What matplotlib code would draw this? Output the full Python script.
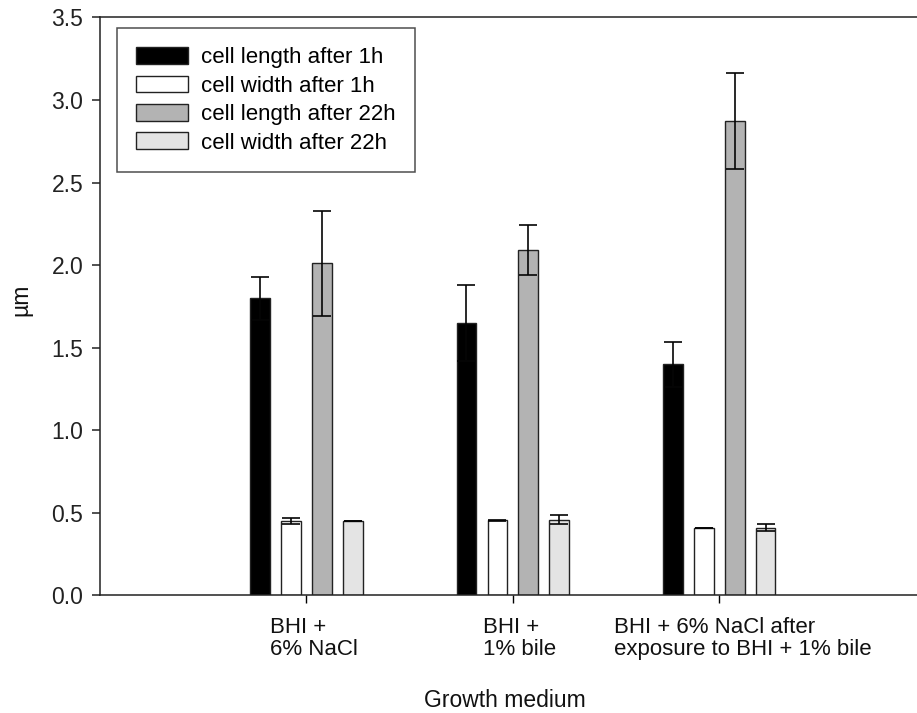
import matplotlib
matplotlib.use("Agg")
import matplotlib.pyplot as plt
import numpy as np

plt.rcParams["font.family"] = ["Liberation Sans", "DejaVu Sans"]

MEDIA = [
    "BHI +\n6% NaCl",
    "BHI +\n1% bile",
    "BHI + 6% NaCl after\nexposure to BHI + 1% bile",
]
LABEL_LEFT = [0.822, 1.854, 2.49]  # left edge of each medium label, in data x

SERIES = [
    "cell length after 1h",
    "cell width after 1h",
    "cell length after 22h",
    "cell width after 22h",
]
length_1h = [1.80, 1.65, 1.40]
length_1h_err = [0.13, 0.23, 0.135]
width_1h = [0.45, 0.455, 0.41]
width_1h_err = [0.02, 0.005, 0.0]
length_22h = [2.01, 2.09, 2.87]
length_22h_err = [0.32, 0.15, 0.29]
width_22h = [0.45, 0.46, 0.41]
width_22h_err = [0.0, 0.03, 0.02]

values = [length_1h, width_1h, length_22h, width_22h]
errors = [length_1h_err, width_1h_err, length_22h_err, width_22h_err]
fills = ["#000000", "#ffffff", "#b3b3b3", "#e4e4e4"]
edge = "#222222"

fig = plt.figure(figsize=(9.17, 7.13), dpi=100)
ax = fig.add_axes([0.109, 0.1648, 0.891, 0.8109])

x = np.arange(1, len(MEDIA) + 1)
offsets = [-0.225, -0.075, 0.075, 0.225]
bar_w = 0.095
for vals, errs, fill, off, name in zip(values, errors, fills, offsets, SERIES):
    ax.bar(x + off, vals, width=bar_w, color=fill, edgecolor=edge,
           linewidth=1.0, label=name, zorder=2)
    ax.errorbar(x + off, vals, yerr=errs, fmt="none", ecolor="#050505",
                elinewidth=1.2, capsize=6.5, capthick=1.2, zorder=3)

ax.set_xlim(0, 3.958)
ax.set_ylim(0, 3.5)
ax.set_yticks(np.arange(0, 3.51, 0.5))
ax.set_yticklabels([f"{v:.1f}" for v in np.arange(0, 3.51, 0.5)])
ax.set_xticks(x)
ax.set_xticklabels([])
ax.tick_params(axis="y", direction="out", length=6, width=1.1, pad=6,
               labelsize=16.5, colors="#222222")
ax.tick_params(axis="x", direction="out", length=6, width=1.0)

for side in ["left", "bottom", "top"]:
    ax.spines[side].set_linewidth(1.1)
    ax.spines[side].set_color("#222222")
ax.spines["right"].set_visible(False)

# medium names under each group, lines left-aligned
for left, text in zip(LABEL_LEFT, MEDIA):
    ax.text(left, -0.037, text, transform=ax.get_xaxis_transform(),
            ha="left", va="top", fontsize=16, linespacing=1.07, color="#111111")

ax.set_xlabel("Growth medium", fontsize=16.5, color="#111111")
ax.xaxis.set_label_coords(0.4957, -0.162)
ax.set_ylabel("µm", fontsize=16.5, color="#111111")
ax.yaxis.set_label_coords(-0.083, 0.511)

leg = ax.legend(loc="upper left", bbox_to_anchor=(0.0204, 0.981),
                borderaxespad=0, fontsize=16, frameon=True, fancybox=False,
                handlelength=2.35, handleheight=0.78, handletextpad=0.6,
                labelspacing=0.33, borderpad=0.85)
leg.get_frame().set_edgecolor("#222222")
leg.get_frame().set_linewidth(1.1)

fig.savefig("out.png", dpi=100)
